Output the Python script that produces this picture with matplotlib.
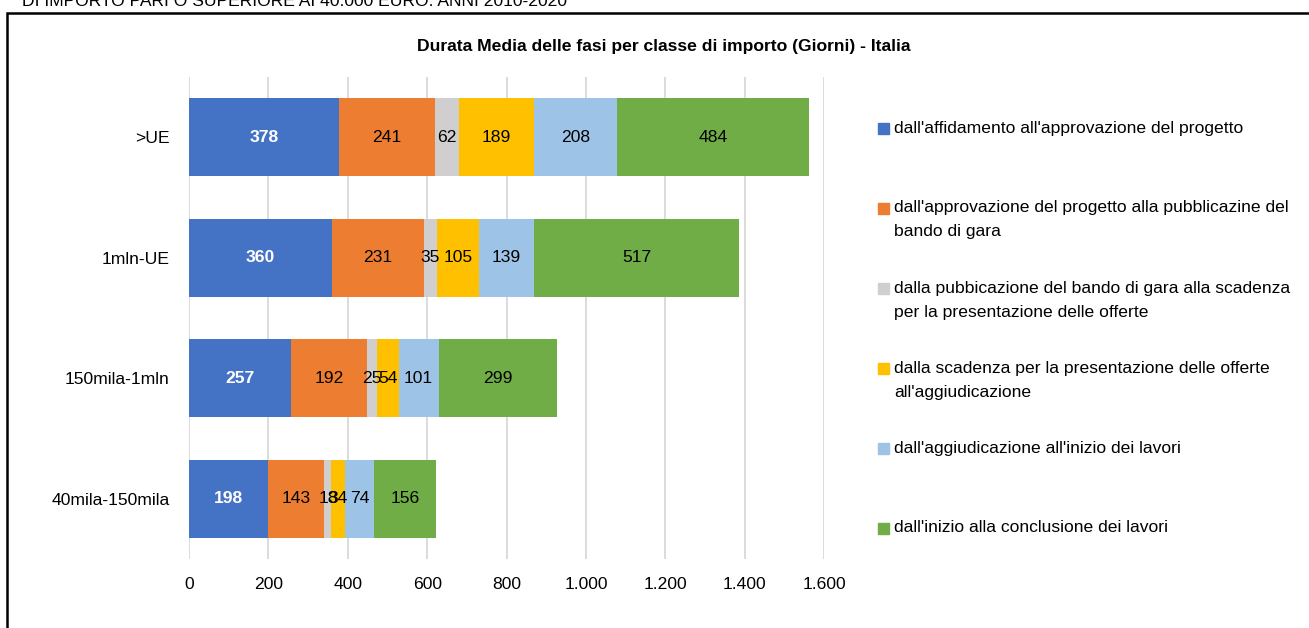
import matplotlib.pyplot as plt
from matplotlib.patches import Rectangle
from matplotlib.ticker import FuncFormatter
import numpy as np

plt.rcParams['font.family'] = ['Liberation Sans', 'DejaVu Sans']

# categories, top to bottom
classi = [">UE", "1mln-UE", "150mila-1mln", "40mila-150mila"]

fasi = [
    "dall'affidamento all'approvazione del progetto",
    "dall'approvazione del progetto alla pubblicazine del\nbando di gara",
    "dalla pubbicazione del bando di gara alla scadenza\nper la presentazione delle offerte",
    "dalla scadenza per la presentazione delle offerte\nall'aggiudicazione",
    "dall'aggiudicazione all'inizio dei lavori",
    "dall'inizio alla conclusione dei lavori",
]

# one list per phase, values in category order
affidamento_progetto = [378, 360, 257, 198]
progetto_bando = [241, 231, 192, 143]
bando_scadenza = [62, 35, 25, 18]
scadenza_aggiudicazione = [189, 105, 54, 34]
aggiudicazione_lavori = [208, 139, 101, 74]
esecuzione_lavori = [484, 517, 299, 156]

serie = [affidamento_progetto, progetto_bando, bando_scadenza,
         scadenza_aggiudicazione, aggiudicazione_lavori, esecuzione_lavori]

colori = ['#4472C4', '#ED7D31', '#D0CECE', '#FFC000', '#9DC3E6', '#70AD47']

x_ticks = np.arange(0, 1600 + 1, 200)

FS = 12.6
W, H = 1309, 628
fig = plt.figure(figsize=(W / 100, H / 100), dpi=100)
ax = fig.add_axes([189 / W, 1 - 559 / H, (824 - 189) / W, (559 - 77) / H])

y = np.arange(len(classi))
left = np.zeros(len(classi))
for i, vals in enumerate(serie):
    vals = np.array(vals, dtype=float)
    bars = ax.barh(y, vals, left=left, height=0.646, color=colori[i], zorder=3)
    for b, v in zip(bars, vals):
        cx = b.get_x() + b.get_width() / 2
        cy = b.get_y() + b.get_height() / 2
        if i == 0:
            ax.text(cx, cy, f"{int(v)}", ha='center', va='center', color='white',
                    fontsize=FS, fontweight='bold', zorder=4)
        else:
            ax.text(cx, cy, f"{int(v)}", ha='center', va='center', color='black',
                    fontsize=FS, zorder=4)
    left += vals

ax.set_ylim(len(classi) - 0.5, -0.5)
ax.set_xlim(0, 1600)
ax.set_yticks(y)
ax.set_yticklabels(classi)
ax.set_xticks(x_ticks)
ax.xaxis.set_major_formatter(FuncFormatter(lambda v, p: f"{int(v):,}".replace(",", ".")))
ax.tick_params(axis='both', length=0, labelsize=FS, colors='black')
ax.tick_params(axis='x', pad=13)
ax.tick_params(axis='y', pad=14)
ax.grid(axis='x', color='#D9D9D9', linewidth=1.3, zorder=0)
for s in ax.spines.values():
    s.set_visible(False)

# title
fig.text(664 / W, 1 - 46 / H, "Durata Media delle fasi per classe di importo (Giorni) - Italia",
         ha='center', va='center', fontsize=FS, fontweight='bold')

# header text cut by the figure edge
fig.text(22 / W, 1 - 6 / H, "DI IMPORTO PARI O SUPERIORE AI 40.000 EURO. ANNI 2010-2020",
         ha='left', va='baseline', fontsize=FS)

# chart border
fig.patches.append(Rectangle((7 / W, -0.2), 1.2, 1.2 - 12.5 / H,
                             transform=fig.transFigure, fill=False,
                             edgecolor='black', linewidth=1.8))

# legend
for i, lab in enumerate(fasi):
    yc = 128 + i * 80
    fig.patches.append(Rectangle((878 / W, 1 - (yc + 6) / H), 11 / W, 11 / H,
                                 transform=fig.transFigure, color=colori[i]))
    for k, line in enumerate(lab.split("\n")):
        fig.text(894 / W, 1 - (yc + k * 24) / H, line, ha='left', va='center', fontsize=FS)

fig.savefig("out.png", dpi=100)
